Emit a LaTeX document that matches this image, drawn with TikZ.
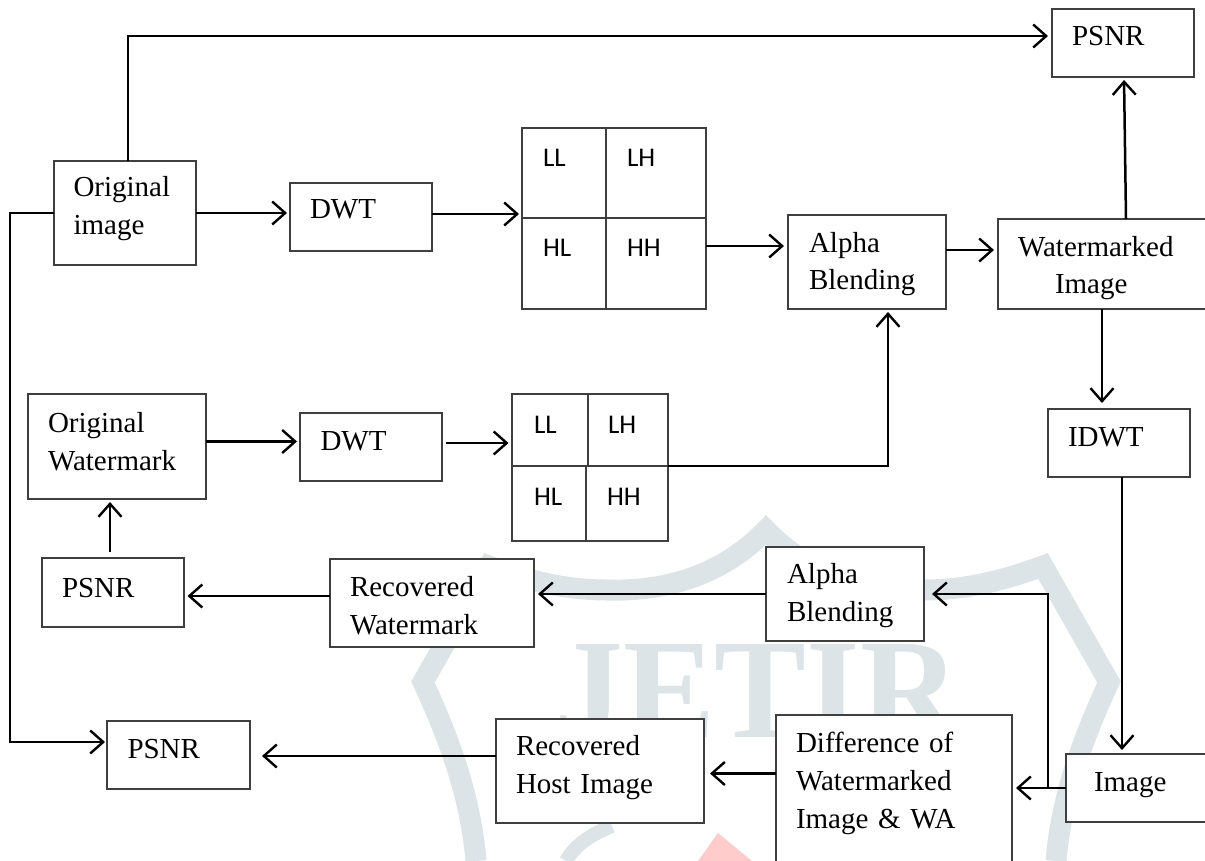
\documentclass[tikz,border=0pt]{standalone}
\usepackage{graphicx}
\usepackage{fontspec}
\setmainfont{Liberation Serif}
\newfontfamily\cellfont{Carlito}
\usetikzlibrary{arrows.meta, positioning, calc}
\definecolor{cBox}{HTML}{3F3F3F}
\definecolor{cMark}{HTML}{DCE4E8}
\definecolor{cMarkRed}{HTML}{FFCCCC}

\begin{document}
\begin{tikzpicture}[
  x=1pt, y=-1pt,
  font=\fontsize{29}{38}\selectfont,
  pbox/.style n args = {4}{rectangle, draw=cBox, fill=white, line width=1.3pt,
                   anchor=north west, outer sep=0pt, inner ysep=0pt, inner xsep=#3pt,
                   align=left, text width=#1pt-2*#3pt,
                   text height=#4pt, text depth=#2pt-#4pt},
  cell/.style n args = {3}{pbox={#1}{#2}{#3}{39},
                   font=\cellfont\fontsize{27}{32}\selectfont},
  arr/.style    = {-{Straight Barb[length=13pt, width=23pt, line width=2.4pt]}, line width=2.5pt},
  band/.style   = {draw=cMark, line width=21pt, line join=miter}]
\useasboundingbox (0,0) rectangle (1205,861);

% ---- faint mark behind the chart --------------------------------------------
\draw[band] (476,861) .. controls (470,790) and (445,730) .. (423,682) -- (489,566)
   .. controls (520,578) and (560,590) .. (607,590)
   .. controls (682,592) and (732,565) .. (766,530)
   .. controls (800,565) and (850,592) .. (925,590)
   .. controls (970,590) and (1010,578) .. (1043,566) -- (1109,682)
   .. controls (1087,730) and (1062,790) .. (1056,861);
\fill[cMarkRed] (718,833) -- (698,861) -- (752,861) -- cycle;
\draw[draw=cMark, line width=14pt] (566,861) .. controls (575,845) and (590,835) .. (612,826);
\node[font=\bfseries\fontsize{142}{142}\selectfont, text=cMark, inner sep=0pt] (mark)
   at (757,692) {\scalebox{0.97}[1]{JETIR}};

% ---- top row: host image -----------------------------------------------------
\node[pbox={142}{104}{19.5}{36}] (orig) at (54,161) {Original\\image};
\node[pbox={142}{68}{20}{36}] (dwtA) at (290,183) {DWT};
\node[cell={84}{90}{21}] (llA) at (522,128) {LL};
\node[cell={100}{90}{21}] (lhA) at (606,128) {LH};
\node[cell={84}{91}{21}] (hlA) at (522,218) {HL};
\node[cell={100}{91}{21}] (hhA) at (606,218) {HH};
\node[pbox={158}{94}{21}{37}] (alphaA) at (788,215) {Alpha\\Blending};
\node[pbox={212}{90}{20}{37}] (wmk) at (998,219) {Watermarked\\\hspace*{37pt}Image};
\node[pbox={142}{68}{20}{37}] (psnrA) at (1052,9) {PSNR};
\node[pbox={142}{68}{20}{37}] (idwt) at (1048,409) {IDWT};

% ---- second row: watermark ---------------------------------------------------
\node[pbox={178}{105}{20}{38}] (origW) at (28,394) {Original\\Watermark};
\node[pbox={142}{68}{20.5}{37}] (dwtB) at (300,413) {DWT};
\node[cell={76}{72}{22}] (llB) at (512,394) {LL};
\node[cell={80}{72}{20}] (lhB) at (588,394) {LH};
\node[cell={74}{75}{22}] (hlB) at (512,466) {HL};
\node[cell={82}{75}{21}] (hhB) at (586,466) {HH};

% ---- lower rows: recovery ----------------------------------------------------
\node[pbox={142}{69}{20}{39}] (psnrB) at (42,558) {PSNR};
\node[pbox={204}{88}{20}{37}] (recW) at (330,559) {Recovered\\Watermark};
\node[pbox={158}{94}{21}{36}] (alphaB) at (766,547) {Alpha\\Blending};
\node[pbox={143}{68}{20.5}{37}] (psnrC) at (107,721) {PSNR};
\node[pbox={208}{104}{20}{36}] (recH) at (496,719) {Recovered\\Host Image};
\node[pbox={236}{150}{20}{37}] (diff) at (776,715) {Difference of\\Watermarked\\Image \& WA};
\node[pbox={150}{68}{28}{37}] (img) at (1066,754) {Image};

% ---- bends ----
\coordinate (topbend) at (128,36);
\coordinate (leftfoot) at (10,742);
\coordinate (split) at (1048,787);

% chain arrows
\draw[arr, shorten >=4pt] (topbend |- orig.north) -- (topbend) -- (topbend -| psnrA.west);
\draw[arr, shorten >=2pt] (orig.west) -- (orig.west -| leftfoot) -- (leftfoot) -- (leftfoot -| psnrC.west);
\draw[arr, shorten >=3pt] (orig.east) -- (orig.east -| dwtA.west);
\draw[arr, shorten >=3pt] ([yshift=3pt]dwtA.east) -- ([yshift=3pt]dwtA.east -| llA.west);
\draw[arr, shorten >=4pt] ([yshift=17.5pt]hhA.east) -- ([yshift=17.5pt]hhA.east -| alphaA.west);
\draw[arr, shorten >=4pt] ([yshift=12pt]alphaA.east) -- ([yshift=12pt]alphaA.east -| wmk.west);
\draw[arr, shorten >=3pt] ([xshift=22pt]wmk.north) -- ([xshift=1pt]psnrA.south);
\draw[arr, shorten >=6pt] ([xshift=-2pt]wmk.south) -- ([xshift=-2pt]wmk.south |- idwt.north);
\draw[arr, shorten >=4pt] ([xshift=3pt]idwt.south) -- ([xshift=3pt]idwt.south |- img.north);
\draw[arr, shorten >=4pt] (img.west) -- (img.west -| diff.east);
\draw[arr, shorten >=8pt] (img.west -| split) |- (alphaB.east);
\draw[arr, shorten >=4pt] (alphaB.west) -- (alphaB.west -| recW.east);
\draw[arr, shorten >=3.5pt] ([yshift=7pt]recW.west) -- ([yshift=7pt]recW.west -| psnrB.east);
\draw[arr, shorten <=6pt, shorten >=3pt] ([xshift=-3pt]psnrB.north) -- ([xshift=-3pt]psnrB.north |- origW.south);
\draw[arr, shorten >=3pt] ([yshift=5pt]origW.east) -- ([yshift=5pt]origW.east -| dwtB.west);
\draw[arr, shorten <=4pt, shorten >=3.5pt] ([yshift=4pt]dwtB.east) -- ([yshift=4pt]dwtB.east -| llB.west);
\draw[arr, shorten >=3pt] (lhB.south east) -| ([xshift=21pt]alphaA.south);
\draw[arr, shorten >=6pt] ([yshift=16.5pt]diff.west) -- ([yshift=16.5pt]diff.west -| recH.east);
\draw[arr, shorten >=12pt] ([yshift=15pt]recH.west) -- ([yshift=15pt]recH.west -| psnrC.east);

\end{tikzpicture}
\end{document}
